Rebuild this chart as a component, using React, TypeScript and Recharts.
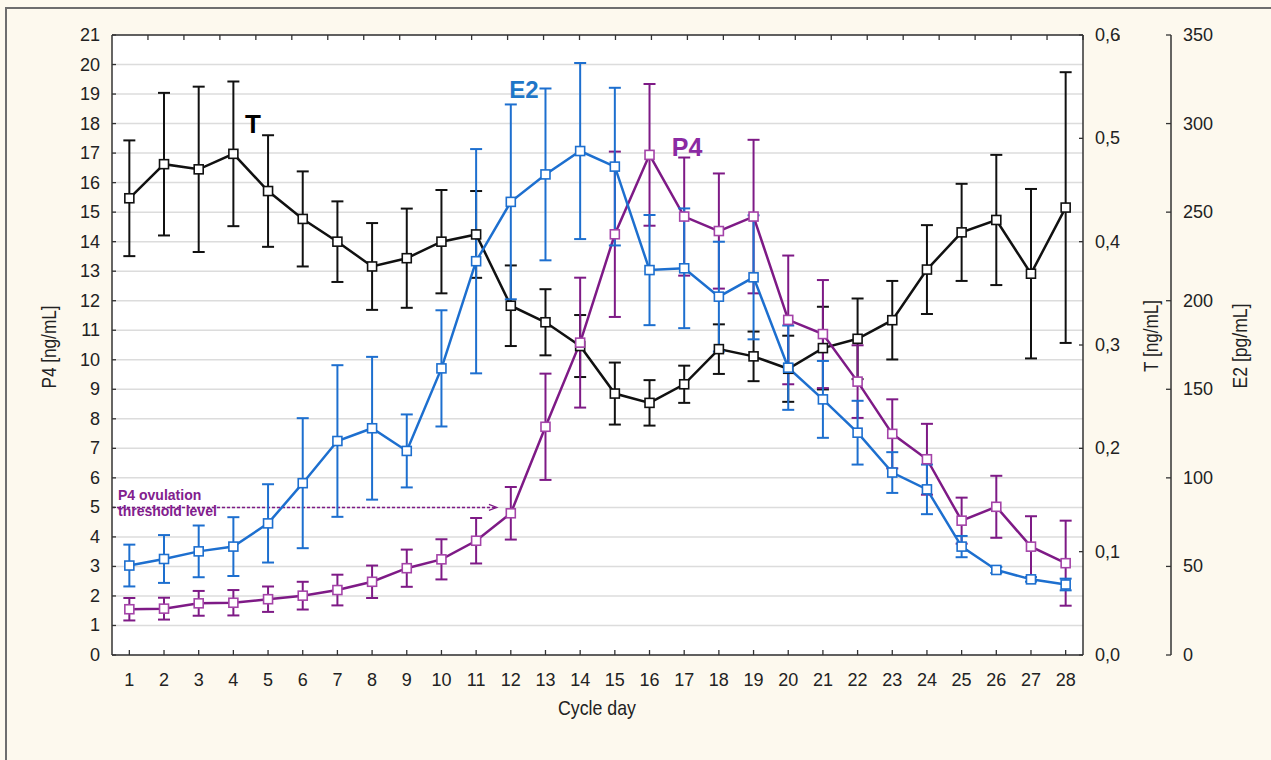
import React from 'react';
import { ComposedChart, Line, XAxis, YAxis, CartesianGrid, ErrorBar, ReferenceLine } from 'recharts';

// ---------- data ----------
const days = [1, 2, 3, 4, 5, 6, 7, 8, 9, 10, 11, 12, 13, 14, 15, 16, 17, 18, 19, 20, 21, 22, 23, 24, 25, 26, 27, 28];

// P4 [ng/mL]
const p4Values = [1.55, 1.57, 1.75, 1.77, 1.89, 2.01, 2.2, 2.48, 2.94, 3.24, 3.87, 4.8, 7.73, 10.58, 14.25, 16.94, 14.85, 14.36, 14.85, 11.35, 10.87, 9.26, 7.49, 6.63, 4.55, 5.02, 3.67, 3.11];
const p4Errors = [0.38, 0.37, 0.42, 0.43, 0.43, 0.47, 0.52, 0.55, 0.63, 0.68, 0.77, 0.89, 1.8, 2.2, 2.8, 2.4, 2.0, 1.95, 2.6, 2.18, 1.83, 1.23, 1.17, 1.2, 0.78, 1.05, 1.03, 1.44];

// T [ng/mL]
const tValues = [0.442, 0.475, 0.47, 0.485, 0.449, 0.422, 0.4, 0.376, 0.384, 0.4, 0.407, 0.338, 0.322, 0.299, 0.253, 0.244, 0.262, 0.296, 0.289, 0.277, 0.297, 0.306, 0.324, 0.373, 0.409, 0.421, 0.369, 0.433];
const tErrors = [0.056, 0.069, 0.08, 0.07, 0.054, 0.046, 0.039, 0.042, 0.048, 0.05, 0.042, 0.039, 0.032, 0.03, 0.03, 0.022, 0.018, 0.024, 0.024, 0.032, 0.04, 0.039, 0.038, 0.043, 0.047, 0.063, 0.082, 0.131];

// E2 [pg/mL]
const e2Values = [50.5, 54.2, 58.5, 61.2, 74.3, 97.0, 120.8, 128.0, 115.2, 161.8, 222.3, 255.8, 271.3, 284.5, 275.7, 217.3, 218.3, 202.3, 213.2, 162.2, 144.3, 125.5, 103.0, 93.5, 61.2, 48.0, 42.7, 39.8];
const e2Errors = [11.8, 13.5, 14.6, 16.6, 22.1, 36.7, 42.8, 40.3, 20.6, 32.8, 63.3, 55.0, 48.5, 49.7, 44.5, 31.1, 33.8, 31.0, 35.0, 23.8, 21.7, 18.0, 11.5, 14.0, 6.0, 1.7, 1.3, 3.3];

const p4Ticks = [0, 1, 2, 3, 4, 5, 6, 7, 8, 9, 10, 11, 12, 13, 14, 15, 16, 17, 18, 19, 20, 21];
const tTicks = [0, 0.1, 0.2, 0.3, 0.4, 0.5, 0.6];
const e2Ticks = [0, 50, 100, 150, 200, 250, 300, 350];

const thresholdP4 = 5;
const thresholdStartDay = 0.5;
const thresholdEndDay = 11.6;

const data = days.map((day, i) => ({
  day,
  p4: p4Values[i],
  p4Err: p4Errors[i],
  t: tValues[i],
  tErr: tErrors[i],
  e2: e2Values[i],
  e2Err: e2Errors[i],
}));

// ---------- styles ----------
const FONT = "'Liberation Sans', Arial, sans-serif";
const AXIS = '#333';
const BLACK = '#111111';
const BLUE = '#1d6fcf';
const PURPLE = '#7e1a86';
const PURPLE_MARK = '#a443a8';
const BG = '#fdf9ee';

const LeftTick = (props: any) => {
  const { x, y, payload } = props;
  return (
    <g>
      <line x1={x} y1={y} x2={x + 4} y2={y} stroke={AXIS} strokeWidth={1.3} />
      <text x={x - 12} y={y} textAnchor="end" dominantBaseline="central" fontSize={18} fontFamily={FONT} fill="#222">
        {payload.value}
      </text>
    </g>
  );
};

const BottomTick = (props: any) => {
  const { x, y, payload } = props;
  return (
    <g>
      <line x1={x} y1={y} x2={x} y2={y - 5} stroke={AXIS} strokeWidth={1.3} />
      <text x={x} y={y + 31} textAnchor="middle" fontSize={18} fontFamily={FONT} fill="#222">
        {payload.value}
      </text>
    </g>
  );
};

const TopTick = (props: any) => {
  const { x, y } = props;
  return <line x1={x} y1={y} x2={x} y2={y + 5} stroke={AXIS} strokeWidth={1.3} />;
};

const TTick = (props: any) => {
  const { x, y, payload } = props;
  return (
    <g>
      <line x1={x} y1={y} x2={x - 4} y2={y} stroke={AXIS} strokeWidth={1.3} />
      <text x={x + 12} y={y} textAnchor="start" dominantBaseline="central" fontSize={18} fontFamily={FONT} fill="#222">
        {Number(payload.value).toFixed(1).replace('.', ',')}
      </text>
    </g>
  );
};

const E2Tick = (props: any) => {
  const { x, y, payload } = props;
  return (
    <g>
      <line x1={x} y1={y} x2={x - 5} y2={y} stroke={AXIS} strokeWidth={1.3} />
      <text x={x + 12} y={y} textAnchor="start" dominantBaseline="central" fontSize={18} fontFamily={FONT} fill="#222">
        {payload.value}
      </text>
    </g>
  );
};

const makeSquare = (color: string) => (props: any) => {
  const { cx, cy, index } = props;
  if (cx == null || cy == null) return <g key={`n${index}`} />;
  return (
    <rect key={`s${index}`} x={cx - 4.5} y={cy - 4.5} width={9} height={9} fill="#fff" stroke={color} strokeWidth={1.6} />
  );
};

const ThresholdShape = (props: any) => {
  const { x1, y1, x2, y2 } = props;
  return (
    <g>
      <line x1={x1} y1={y1} x2={x2} y2={y2} stroke={PURPLE} strokeWidth={1.5} strokeDasharray="3 2" />
      <path d={`M${x2 - 8},${y2 - 3} L${x2},${y2} L${x2 - 8},${y2 + 3}`} fill="none" stroke={PURPLE} strokeWidth={1.2} />
    </g>
  );
};

export default function App() {
  return (
    <div style={{ position: 'absolute', left: 0, top: 0, width: 1271, height: 760, background: BG, overflow: 'hidden' }}>
      <div
        style={{
          position: 'absolute',
          left: 5,
          top: 7,
          width: 1280,
          height: 770,
          borderLeft: '2px solid #6e6e6e',
          borderTop: '2px solid #6e6e6e',
        }}
      />
      <div style={{ position: 'absolute', left: 0, top: 0 }}>
        <ComposedChart width={1271} height={760} data={data} margin={{ top: 25, right: 0, bottom: 0, left: 0 }}>
          <CartesianGrid xAxisId="x" yAxisId="p4" vertical={false} stroke="#dcdcdc" strokeWidth={1.5} fill="#ffffff" />
          <XAxis
            xAxisId="x"
            dataKey="day"
            type="number"
            domain={[0.5, 28.5]}
            ticks={days}
            interval={0}
            height={105}
            tickSize={0}
            tickMargin={0}
            tickLine={false}
            tick={<BottomTick />}
            axisLine={{ stroke: AXIS, strokeWidth: 1.5 }}
          />
          <XAxis
            xAxisId="top"
            orientation="top"
            type="number"
            domain={[0.5, 28.5]}
            ticks={days}
            interval={0}
            height={10}
            tickSize={0}
            tickMargin={0}
            tickLine={false}
            tick={<TopTick />}
            axisLine={{ stroke: AXIS, strokeWidth: 1.5 }}
          />
          <YAxis
            yAxisId="p4"
            orientation="left"
            width={112}
            domain={[0, 21]}
            ticks={p4Ticks}
            interval={0}
            tickSize={0}
            tickMargin={0}
            tickLine={false}
            tick={<LeftTick />}
            axisLine={{ stroke: AXIS, strokeWidth: 1.5 }}
          />
          <YAxis
            yAxisId="r1"
            orientation="right"
            width={88}
            domain={[0, 0.6]}
            ticks={tTicks}
            interval={0}
            tickSize={0}
            tickMargin={0}
            tickLine={false}
            tick={<TTick />}
            axisLine={{ stroke: AXIS, strokeWidth: 1.5 }}
          />
          <YAxis
            yAxisId="r2"
            orientation="right"
            width={100}
            domain={[0, 350]}
            ticks={e2Ticks}
            interval={0}
            tickSize={0}
            tickMargin={0}
            tickLine={false}
            tick={<E2Tick />}
            axisLine={{ stroke: AXIS, strokeWidth: 1.5 }}
          />
          <ReferenceLine
            xAxisId="x"
            yAxisId="p4"
            segment={[
              { x: thresholdStartDay, y: thresholdP4 },
              { x: thresholdEndDay, y: thresholdP4 },
            ]}
            shape={<ThresholdShape />}
          />
          <Line
            xAxisId="x"
            yAxisId="r1"
            dataKey="t"
            stroke={BLACK}
            strokeWidth={2.5}
            dot={makeSquare(BLACK)}
            activeDot={false}
            isAnimationActive={false}
          >
            <ErrorBar dataKey="tErr" width={6} strokeWidth={2} stroke={BLACK} direction="y" />
          </Line>
          <Line
            xAxisId="x"
            yAxisId="p4"
            dataKey="p4"
            stroke={PURPLE}
            strokeWidth={2.5}
            dot={makeSquare(PURPLE_MARK)}
            activeDot={false}
            isAnimationActive={false}
          >
            <ErrorBar dataKey="p4Err" width={6} strokeWidth={2} stroke={PURPLE} direction="y" />
          </Line>
          <Line
            xAxisId="x"
            yAxisId="r2"
            dataKey="e2"
            stroke={BLUE}
            strokeWidth={2.5}
            dot={makeSquare(BLUE)}
            activeDot={false}
            isAnimationActive={false}
          >
            <ErrorBar dataKey="e2Err" width={6} strokeWidth={2} stroke={BLUE} direction="y" />
          </Line>
        </ComposedChart>
      </div>
      <svg width={1271} height={760} style={{ position: 'absolute', left: 0, top: 0, pointerEvents: 'none' }}>
        <text x={253} y={133} textAnchor="middle" fontSize={26} fontWeight="bold" fontFamily={FONT} fill="#000">T</text>
        <text x={524} y={98} textAnchor="middle" fontSize={24} fontWeight="bold" fontFamily={FONT} fill="#1f77c8">E2</text>
        <text x={687} y={156} textAnchor="middle" fontSize={25} fontWeight="bold" fontFamily={FONT} fill="#8b2aa3">P4</text>
        <text x={118} y={500} fontSize={14} fontWeight="bold" fontFamily={FONT} fill="#82208e">P4 ovulation</text>
        <text x={118} y={516} fontSize={14} fontWeight="bold" fontFamily={FONT} fill="#82208e">threshold level</text>
        <text x={48} y={347} transform="rotate(-90 48 347)" textAnchor="middle" dominantBaseline="central" fontSize={21} fontFamily={FONT} fill="#222" textLength={83} lengthAdjust="spacingAndGlyphs">P4 [ng/mL]</text>
        <text x={1150} y={336} transform="rotate(-90 1150 336)" textAnchor="middle" dominantBaseline="central" fontSize={21} fontFamily={FONT} fill="#222" textLength={72} lengthAdjust="spacingAndGlyphs">T [ng/mL]</text>
        <text x={1239} y={346} transform="rotate(-90 1239 346)" textAnchor="middle" dominantBaseline="central" fontSize={21} fontFamily={FONT} fill="#222" textLength={85} lengthAdjust="spacingAndGlyphs">E2 [pg/mL]</text>
        <text x={597} y={715} textAnchor="middle" fontSize={21} fontFamily={FONT} fill="#222" textLength={78} lengthAdjust="spacingAndGlyphs">Cycle day</text>
      </svg>
    </div>
  );
}
